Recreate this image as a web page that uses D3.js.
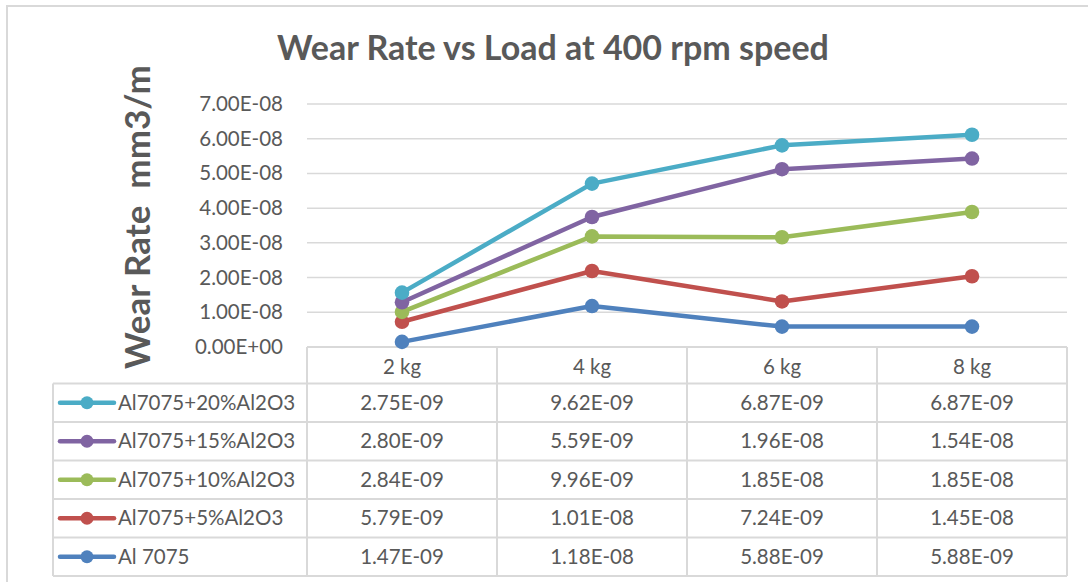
<!DOCTYPE html>
<html>
<head>
<meta charset="utf-8">
<script src="https://cdn.jsdelivr.net/npm/d3@7"></script>
<style>
  html, body { margin: 0; padding: 0; background: #fff; }
  svg { display: block; }
</style>
</head>
<body>
<svg id="chart" width="1088" height="582"></svg>
<script>
// ---- data ----
const categories = ["2 kg", "4 kg", "6 kg", "8 kg"];
const seriesNames = ["Al 7075", "Al7075+5%Al2O3", "Al7075+10%Al2O3", "Al7075+15%Al2O3", "Al7075+20%Al2O3"];
const al7075      = [1.47e-9, 1.18e-8, 5.88e-9, 5.88e-9];
const al7075_5    = [5.79e-9, 1.01e-8, 7.24e-9, 1.45e-8];
const al7075_10   = [2.84e-9, 9.96e-9, 1.85e-8, 1.85e-8];
const al7075_15   = [2.80e-9, 5.59e-9, 1.96e-8, 1.54e-8];
const al7075_20   = [2.75e-9, 9.62e-9, 6.87e-9, 6.87e-9];
const yTicks = [0, 1e-8, 2e-8, 3e-8, 4e-8, 5e-8, 6e-8, 7e-8];
const seriesColors = ["#4F81BD", "#C0504D", "#9BBB59", "#8064A2", "#4BACC6"];

const seriesValues = [al7075, al7075_5, al7075_10, al7075_15, al7075_20];

// table rows for d3.stack
const rows = categories.map((c, i) => {
  const r = { cat: c };
  seriesNames.forEach((s, j) => r[s] = seriesValues[j][i]);
  return r;
});
const stacked = d3.stack().keys(seriesNames)(rows);

// ---- formatting ----
function sci(v) {
  if (v === 0) return "0.00E+00";
  const s = v.toExponential(2);
  const [m, e] = s.split("e");
  const n = parseInt(e, 10);
  const sign = n < 0 ? "-" : "+";
  const abs = Math.abs(n);
  return m + "E" + sign + (abs < 10 ? "0" + abs : abs);
}

// ---- layout ----
const svg = d3.select("#chart");
const FONT = "Lato, 'Open Sans', sans-serif";
const TXT = "#595959";
const GRID = "#d9d9d9";
const FS = 20.5;

const plotLeft = 307, plotRight = 1067, plotTop = 104, plotBottom = 347;
const x = d3.scaleBand().domain(categories).range([plotLeft, plotRight]).padding(0);
const y = d3.scaleLinear().domain([0, 7e-8]).range([plotBottom, plotTop]);

// outer border
svg.append("path")
  .attr("d", "M7,582 L7,6 L1088,6")
  .attr("fill", "none").attr("stroke", GRID).attr("stroke-width", 2);

// title
svg.append("text")
  .attr("x", 553).attr("y", 60)
  .attr("text-anchor", "middle")
  .attr("font-family", FONT).attr("font-weight", "bold")
  .attr("font-size", 34).attr("fill", TXT)
  .text("Wear Rate vs Load at 400 rpm speed");

// y axis title
svg.append("text")
  .attr("transform", "translate(150,217) rotate(-90)")
  .attr("text-anchor", "middle")
  .attr("font-family", FONT).attr("font-weight", "bold")
  .attr("font-size", 35).attr("fill", TXT)
  .attr("xml:space", "preserve")
  .text("Wear Rate  mm3/m");

// gridlines
svg.append("g").selectAll("line")
  .data(yTicks.filter(d => d > 0))
  .join("line")
  .attr("x1", plotLeft).attr("x2", plotRight)
  .attr("y1", d => y(d)).attr("y2", d => y(d))
  .attr("stroke", GRID).attr("stroke-width", 1.5);

// y axis
const yAxis = d3.axisLeft(y).tickValues(yTicks).tickFormat(sci).tickSize(0).tickPadding(0);
const gy = svg.append("g").attr("transform", "translate(283,0)").call(yAxis);
gy.select(".domain").remove();
gy.selectAll("text")
  .attr("font-family", FONT).attr("font-size", FS).attr("fill", TXT);

// ---- data table ----
const tableLeft = 53;
const headerTop = plotBottom;
const rowTop = 383.5;
const rowH = 38.5;
const nRows = seriesNames.length;
const tableBottom = rowTop + rowH * nRows;

const tg = svg.append("g");
tg.append("line").attr("x1", plotLeft).attr("x2", plotRight)
  .attr("y1", headerTop).attr("y2", headerTop).attr("stroke", GRID).attr("stroke-width", 2);
d3.range(nRows + 1).forEach(i => {
  tg.append("line").attr("x1", tableLeft).attr("x2", plotRight)
    .attr("y1", rowTop + i * rowH).attr("y2", rowTop + i * rowH)
    .attr("stroke", GRID).attr("stroke-width", 2);
});
tg.append("line").attr("x1", tableLeft).attr("x2", tableLeft)
  .attr("y1", rowTop).attr("y2", tableBottom).attr("stroke", GRID).attr("stroke-width", 2);
categories.forEach(c => {
  tg.append("line").attr("x1", x(c)).attr("x2", x(c))
    .attr("y1", headerTop).attr("y2", tableBottom).attr("stroke", GRID).attr("stroke-width", 2);
});
tg.append("line").attr("x1", plotRight).attr("x2", plotRight)
  .attr("y1", headerTop).attr("y2", tableBottom).attr("stroke", GRID).attr("stroke-width", 2);

// header category labels (x axis)
const xAxis = d3.axisBottom(x).tickSize(0).tickPadding(0);
const gx = svg.append("g").attr("transform", `translate(0,${headerTop})`).call(xAxis);
gx.select(".domain").remove();
gx.selectAll("text")
  .attr("dy", null).attr("y", 27)
  .attr("font-family", FONT).attr("font-size", FS).attr("fill", TXT);

// table rows: top row is last series
const order = d3.range(nRows).reverse();
order.forEach((si, ri) => {
  const cy = rowTop + ri * rowH + rowH / 2;
  tg.append("line").attr("x1", 60).attr("x2", 114).attr("y1", cy).attr("y2", cy)
    .attr("stroke", seriesColors[si]).attr("stroke-width", 4.5).attr("stroke-linecap", "round");
  tg.append("circle").attr("cx", 87).attr("cy", cy).attr("r", 6.5).attr("fill", seriesColors[si]);
  tg.append("text").attr("x", 118).attr("y", cy + 7)
    .attr("font-family", FONT).attr("font-size", FS).attr("fill", TXT)
    .text(seriesNames[si]);
  categories.forEach((c, ci) => {
    tg.append("text").attr("x", x(c) + x.bandwidth() / 2).attr("y", cy + 7)
      .attr("text-anchor", "middle")
      .attr("font-family", FONT).attr("font-size", FS).attr("fill", TXT)
      .text(sci(seriesValues[si][ci]));
  });
});

// ---- stacked lines ----
const line = d3.line()
  .x((d, i) => x(categories[i]) + x.bandwidth() / 2)
  .y(d => y(d[1]));

const lg = svg.append("g");
stacked.forEach((layer, si) => {
  lg.append("path")
    .datum(layer)
    .attr("d", line)
    .attr("fill", "none")
    .attr("stroke", seriesColors[si])
    .attr("stroke-width", 4.5)
    .attr("stroke-linejoin", "round")
    .attr("stroke-linecap", "round");
});
stacked.forEach((layer, si) => {
  lg.selectAll(null).data(layer).join("circle")
    .attr("cx", (d, i) => x(categories[i]) + x.bandwidth() / 2)
    .attr("cy", d => y(d[1]))
    .attr("r", 7.3)
    .attr("fill", seriesColors[si]);
});
</script>
</body>
</html>
